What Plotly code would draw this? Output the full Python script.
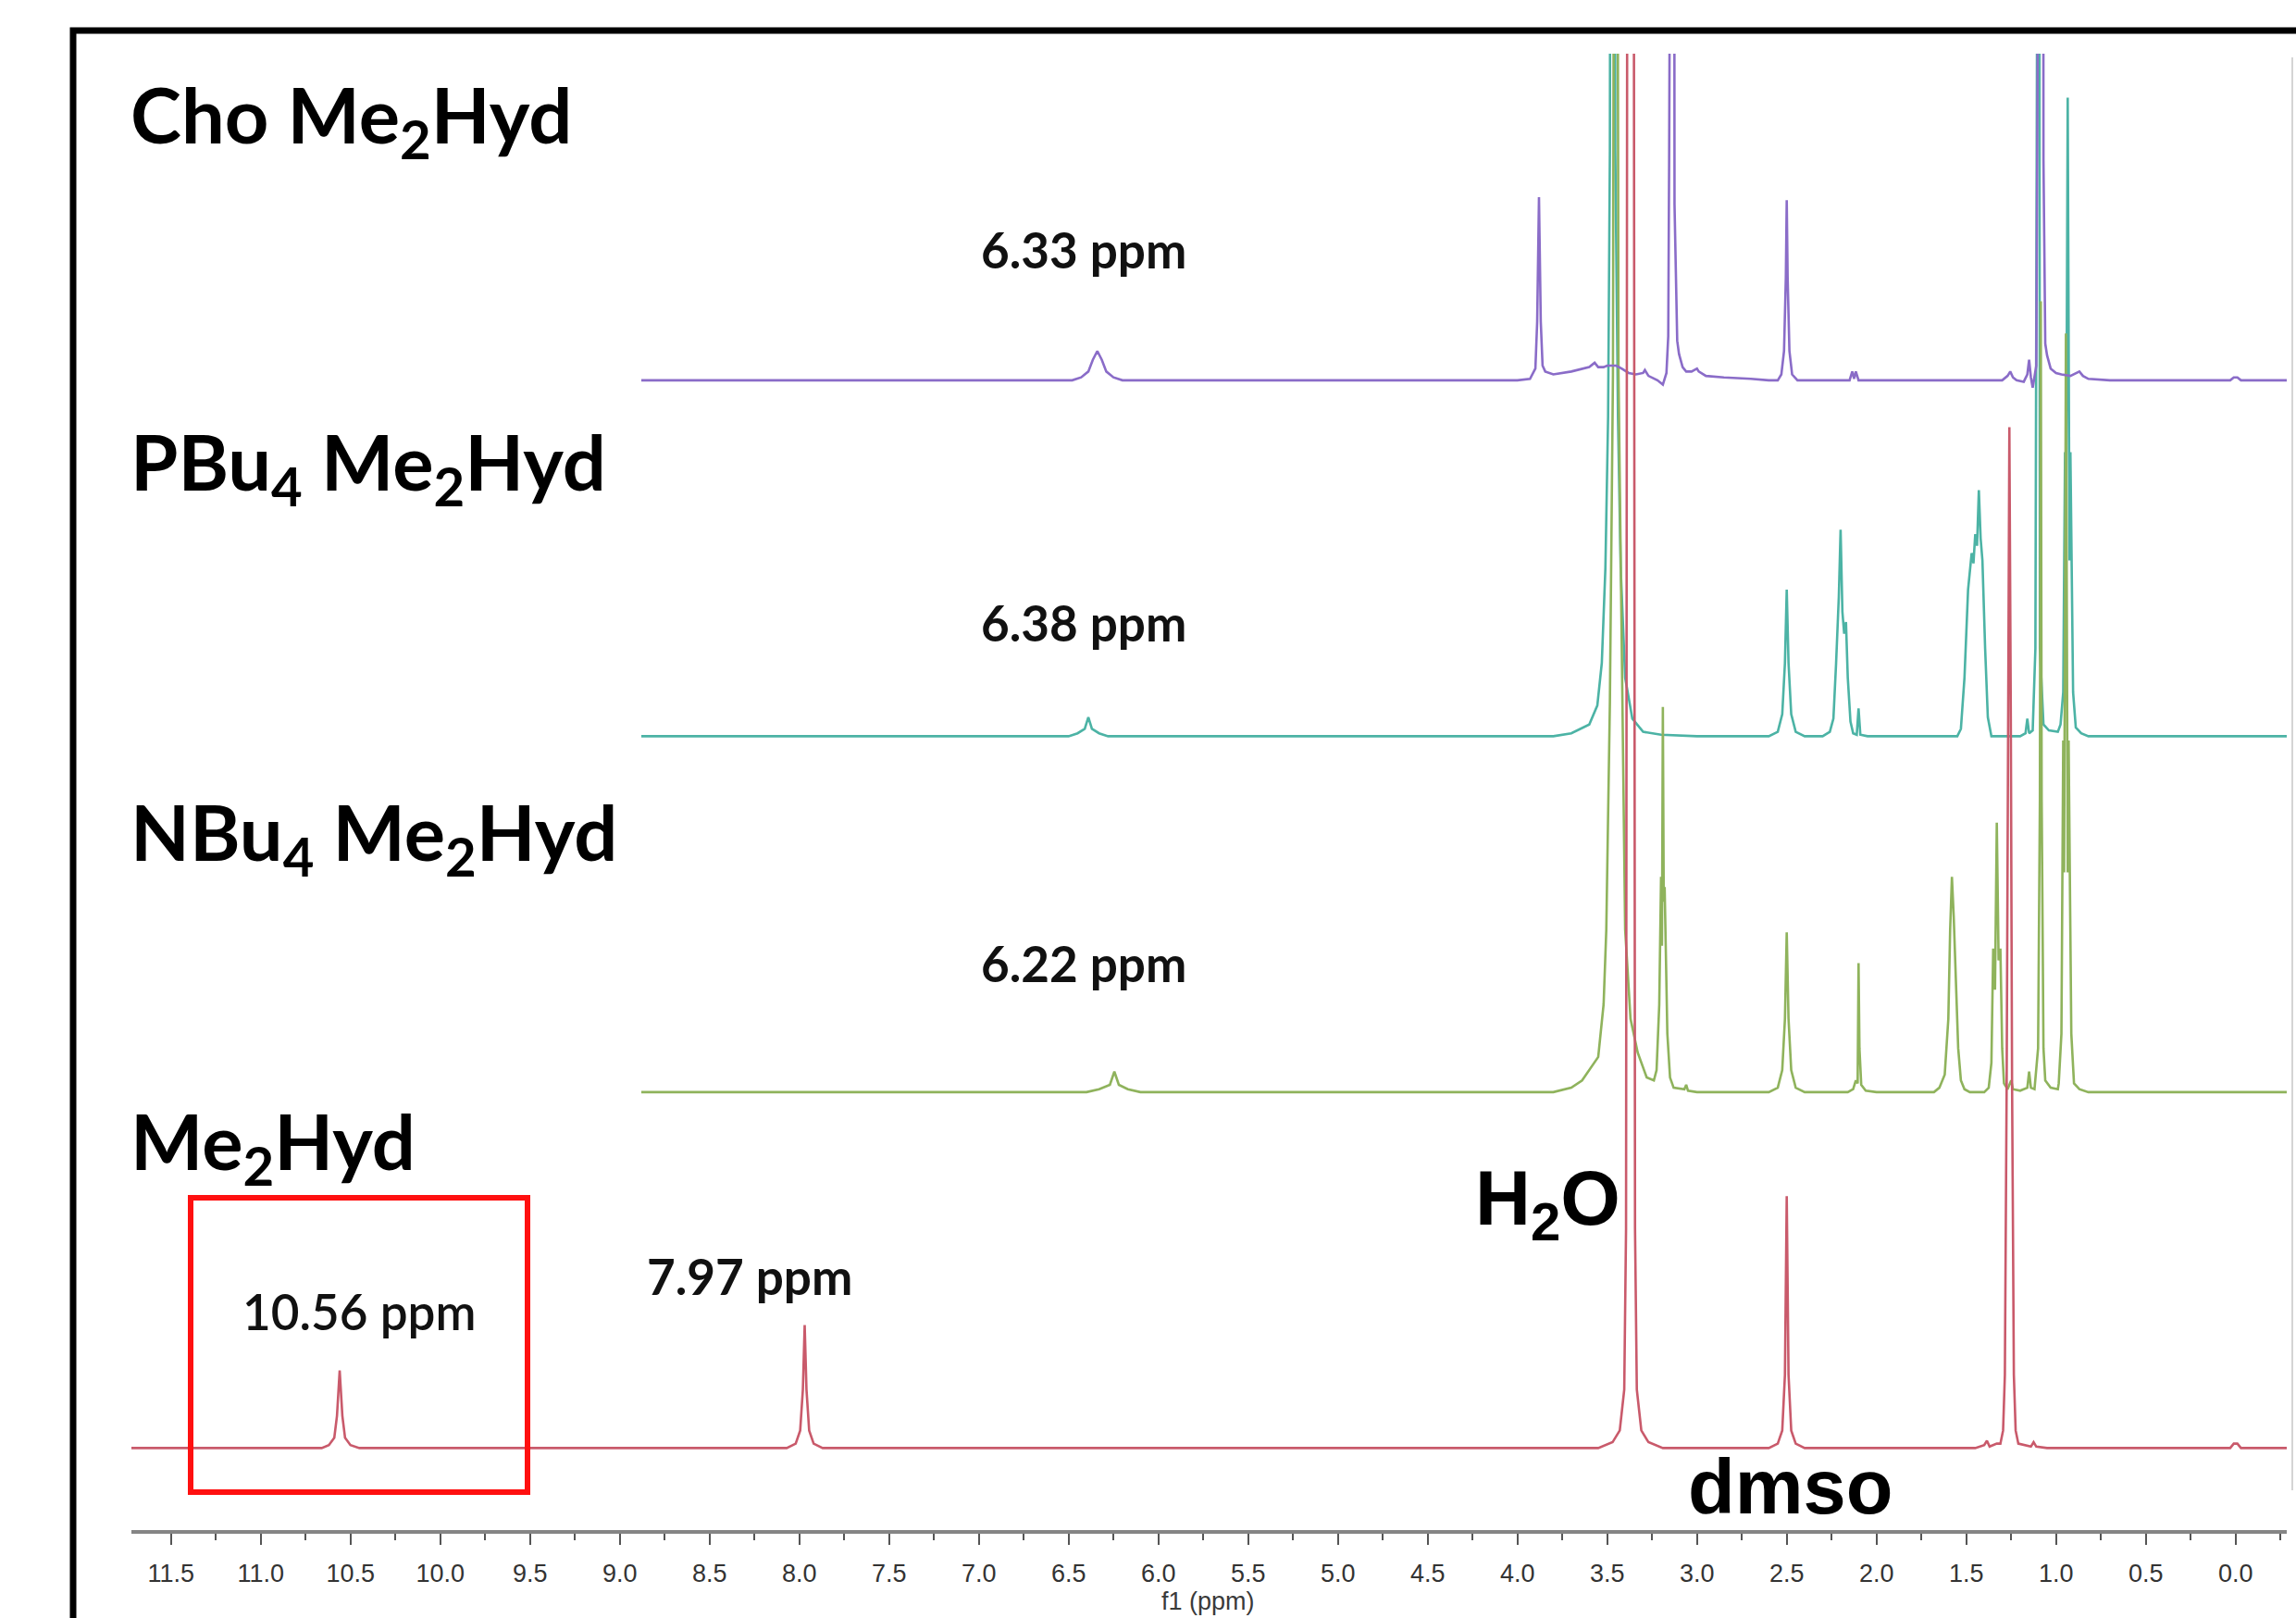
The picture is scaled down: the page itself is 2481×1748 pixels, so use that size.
import plotly.graph_objects as go

# ---------------- DATA ----------------
# Chemical shift (ppm) and intensity above each trace's own baseline (arbitrary units)
cho_ppm = [8.88, 6.48, 6.43, 6.39, 6.365, 6.34, 6.315, 6.29, 6.25, 6.20,
           4.00, 3.93, 3.90, 3.89, 3.88, 3.87, 3.86, 3.845, 3.80, 3.70, 3.60, 3.57, 3.55, 3.52,
           3.50, 3.45, 3.42, 3.38, 3.34, 3.30, 3.29, 3.27, 3.22, 3.19, 3.17, 3.16, 3.155, 3.15,
           3.13, 3.125, 3.115, 3.11, 3.10, 3.08, 3.06, 3.03, 3.00, 2.99, 2.95, 2.85, 2.70, 2.60,
           2.55, 2.53, 2.515, 2.505, 2.50, 2.495, 2.485, 2.47, 2.44, 2.15, 2.135, 2.125, 2.115,
           2.10, 1.40, 1.30, 1.27, 1.255, 1.24, 1.22, 1.18, 1.16, 1.15, 1.14, 1.13, 1.11, 1.105,
           1.10, 1.075, 1.07, 1.06, 1.05, 1.03, 1.00, 0.97, 0.92, 0.90, 0.87, 0.85, 0.82, 0.70,
           0.03, 0.01, -0.01, -0.03, -0.285]
cho_int = [0, 0, 2, 6, 14, 20, 14, 6, 2, 0,
           0, 1, 8, 40, 125, 40, 10, 6, 4, 6, 9, 12, 9, 9,
           10, 10, 8, 5, 4, 5, 7, 3, 0, -3, 5, 30, 150, 1000,
           1000, 120, 40, 27, 18, 9, 6, 6, 8, 6, 3, 2, 1, 0,
           0, 4, 20, 70, 123, 70, 20, 4, 0, 0, 6, 1, 6,
           0, 0, 0, 3, 6, 2, 0, -1, 4, 14, 2, -5, 10, 150,
           1000, 1000, 150, 25, 17, 8, 5, 4, 3, 4, 6, 3, 1, 0,
           0, 2, 2, 0, 0]

pbu_ppm = [8.88, 6.50, 6.45, 6.41, 6.39, 6.37, 6.33, 6.28,
           3.80, 3.70, 3.60, 3.555, 3.53, 3.51, 3.495, 3.485, 3.478, 3.462, 3.455, 3.44, 3.425,
           3.40, 3.36, 3.30, 3.20, 3.00,
           2.60, 2.55, 2.525, 2.51, 2.50, 2.49, 2.475, 2.45, 2.40,
           2.30, 2.26, 2.24, 2.225, 2.21, 2.20, 2.19, 2.18, 2.17, 2.16, 2.145, 2.13, 2.11, 2.10,
           2.09, 2.05,
           1.55, 1.53, 1.51, 1.49, 1.47, 1.46, 1.45, 1.44, 1.43, 1.42, 1.41, 1.395, 1.38, 1.36,
           1.20, 1.17, 1.16, 1.15, 1.13, 1.115, 1.11, 1.095, 1.09, 1.07, 1.04, 1.00, 0.99, 0.975,
           0.96, 0.95, 0.945, 0.935, 0.925, 0.92, 0.905, 0.89, 0.86, 0.82, -0.285]
pbu_int = [0, 0, 2, 5, 13, 5, 2, 0,
           0, 2, 8, 21, 50, 115, 218, 400, 1000, 1000, 400, 218, 115,
           40, 12, 3, 1, 0,
           0, 3, 15, 50, 100, 50, 15, 3, 0,
           0, 3, 12, 50, 95, 141, 85, 70, 78, 40, 10, 2, 1, 19,
           1, 0,
           0, 5, 40, 100, 125, 118, 138, 130, 168, 135, 120, 60, 13, 0,
           0, 2, 12, 2, 4, 60, 1000, 1000, 60, 8, 4, 3, 3, 8,
           30, 194, 120, 436, 120, 194, 30, 6, 2, 0, 0]

nbu_ppm = [8.88, 6.40, 6.33, 6.27, 6.245, 6.22, 6.17, 6.10,
           3.80, 3.70, 3.64, 3.55, 3.52, 3.505, 3.485, 3.468, 3.46, 3.445, 3.437, 3.417, 3.40,
           3.37, 3.33, 3.28, 3.24, 3.225, 3.21, 3.20, 3.195, 3.19, 3.185, 3.18, 3.175, 3.165,
           3.15, 3.13, 3.07, 3.06, 3.05, 3.00,
           2.60, 2.55, 2.525, 2.51, 2.50, 2.49, 2.475, 2.45, 2.40,
           2.16, 2.13, 2.115, 2.105, 2.10, 2.095, 2.085, 2.06, 2.00,
           1.68, 1.65, 1.62, 1.60, 1.59, 1.58, 1.57, 1.56, 1.545, 1.53, 1.51, 1.48,
           1.40, 1.375, 1.36, 1.35, 1.34, 1.33, 1.32, 1.31, 1.30, 1.29, 1.27, 1.25, 1.24, 1.20,
           1.16, 1.15, 1.14, 1.12, 1.10, 1.09, 1.085, 1.08, 1.07, 1.06, 1.03, 0.99, 0.985, 0.97,
           0.96, 0.955, 0.945, 0.935, 0.93, 0.915, 0.90, 0.87, 0.82, -0.285]
nbu_int = [0, 0, 2, 5, 14, 5, 2, 0,
           0, 3, 8, 24, 60, 111, 266, 490, 1000, 1000, 490, 266, 111,
           50, 27, 10, 8, 15, 60, 147, 100, 263, 130, 140, 100, 40,
           10, 3, 2, 5, 1, 0,
           0, 3, 15, 50, 109, 50, 15, 3, 0,
           0, 2, 8, 6, 88, 30, 5, 1, 0,
           0, 3, 12, 50, 110, 147, 120, 80, 30, 8, 2, 0,
           0, 3, 20, 98, 70, 184, 90, 98, 30, 6, 2, 8, 2, 1,
           3, 14, 3, 2, 30, 200, 540, 200, 30, 8, 3, 2, 6, 40,
           240, 150, 518, 150, 240, 40, 6, 2, 0, 0]

hyd_ppm = [11.72, 10.66, 10.62, 10.59, 10.575, 10.56, 10.545, 10.53, 10.50, 10.45,
           8.07, 8.02, 7.995, 7.98, 7.97, 7.96, 7.945, 7.92, 7.87,
           3.55, 3.47, 3.43, 3.405, 3.395, 3.385, 3.355, 3.345, 3.335, 3.31, 3.27, 3.19,
           2.60, 2.55, 2.525, 2.51, 2.50, 2.49, 2.475, 2.45, 2.40,
           1.45, 1.40, 1.385, 1.37, 1.33, 1.31, 1.295, 1.285, 1.275, 1.268, 1.26, 1.252, 1.245,
           1.235, 1.225, 1.21, 1.14, 1.125, 1.11, 1.05,
           0.03, 0.01, -0.01, -0.03, -0.285]
hyd_int = [0, 0, 2, 7, 22, 53, 22, 7, 2, 0,
           0, 3, 12, 40, 84, 40, 12, 3, 0,
           0, 4, 12, 40, 150, 1500, 1500, 150, 40, 12, 4, 0,
           0, 3, 12, 50, 172, 50, 12, 3, 0,
           0, 2, 5, 1, 3, 3, 12, 50, 250, 500, 697, 500, 250,
           50, 12, 3, 1, 4, 1, 0,
           0, 3, 3, 0, 0]

# ---------------- LAYOUT CONSTANTS ----------------
W, H = 2481, 1748
PL, PR, PT, PB = 142, 2471, 58, 1653          # plot area in pixels
XR = [11.72, -0.285]
YR = [0, 1008]
offsets = {"cho": 785, "pbu": 542, "nbu": 299, "hyd": 56}
colors = {"cho": "#8a6cc8", "pbu": "#4cb3a5", "nbu": "#8fb35c", "hyd": "#c95a6b"}


def paper(xp, yp):
    return (xp - PL) / (PR - PL), (PB - yp) / (PB - PT)


fig = go.Figure()
series = [("pbu", pbu_ppm, pbu_int), ("nbu", nbu_ppm, nbu_int),
          ("cho", cho_ppm, cho_int), ("hyd", hyd_ppm, hyd_int)]
for key, xs, ys in series:
    fig.add_trace(go.Scatter(
        x=xs, y=[v + offsets[key] for v in ys], mode="lines",
        line=dict(color=colors[key], width=2.6), hoverinfo="skip", showlegend=False))

name_font = dict(family="Lato, Open Sans, sans-serif", size=83, color="black", weight="bold")
ppm_font = dict(family="Lato, Open Sans, sans-serif", size=53, color="#111111", weight="bold")
big_font = dict(family="Liberation Sans Narrow, Arial Narrow, Liberation Sans, Arial, sans-serif",
                size=83, color="black", weight="bold")

labels = [
    ("Cho Me<sub>2</sub>Hyd", 139, 128, "left", name_font),
    ("PBu<sub>4</sub> Me<sub>2</sub>Hyd", 139, 503, "left", name_font),
    ("NBu<sub>4</sub> Me<sub>2</sub>Hyd", 139, 903, "left", name_font),
    ("Me<sub>2</sub>Hyd", 139, 1237, "left", name_font),
    ("6.33 ppm", 1171, 269, "center", ppm_font),
    ("6.38 ppm", 1171, 672, "center", ppm_font),
    ("6.22 ppm", 1171, 1040, "center", ppm_font),
    ("7.97 ppm", 810, 1378, "center", ppm_font),
    ("10.56 ppm", 388, 1416, "center", dict(ppm_font, weight=600)),
    ("H<sub>2</sub>O", 1592, 1300, "left", big_font),
    ("dmso", 1934, 1606, "center", big_font),
    ("f1 (ppm)", 1305, 1730, "center",
     dict(family="Liberation Sans Narrow, Arial Narrow, Liberation Sans, sans-serif",
          size=27, color="#3a3a3a")),
]
for text, xp, yp, xa, font in labels:
    px, py = paper(xp, yp)
    fig.add_annotation(text=text, x=px, y=py, xref="paper", yref="paper",
                       xanchor=xa, yanchor="middle", showarrow=False, font=font)

# red highlight box
bx0, by0 = paper(206, 1612)
bx1, by1 = paper(570, 1294)
fig.add_shape(type="rect", xref="paper", yref="paper", x0=bx0, y0=by0, x1=bx1, y1=by1,
              line=dict(color="#ff1010", width=6))
# black outer frame (left and top edges visible)
fx0, fy1 = paper(79, 33)
fig.add_shape(type="rect", xref="paper", yref="paper", x0=fx0, y0=-1, x1=3, y1=fy1,
              line=dict(color="black", width=7))
# faint right edge line
ex, ey0 = paper(2477, 1610)
_, ey1 = paper(2477, 62)
fig.add_shape(type="line", xref="paper", yref="paper", x0=ex, x1=ex, y0=ey0, y1=ey1,
              line=dict(color="#d4d4d4", width=2))

fig.update_layout(
    width=W, height=H,
    margin=dict(l=PL, r=W - PR, t=PT, b=H - PB),
    paper_bgcolor="white", plot_bgcolor="white",
    showlegend=False,
    xaxis=dict(range=XR, showgrid=False, zeroline=False,
               showline=True, linecolor="#858585", linewidth=4,
               ticks="outside", ticklen=12, tickwidth=2, tickcolor="#555555",
               tick0=0, dtick=0.5, tickformat=".1f",
               ticklabelstandoff=8,
               tickfont=dict(family="Liberation Sans Narrow, Arial Narrow, Liberation Sans, sans-serif",
                             size=27, color="#333333"),
               minor=dict(ticks="outside", dtick=0.25, tick0=0, ticklen=7,
                          tickwidth=2, tickcolor="#555555", showgrid=False)),
    yaxis=dict(range=YR, visible=False, showgrid=False, zeroline=False),
)

fig.write_html("out.html", config={"displayModeBar": False},
               post_script="document.body.style.margin='0';document.body.style.overflow='hidden';")
